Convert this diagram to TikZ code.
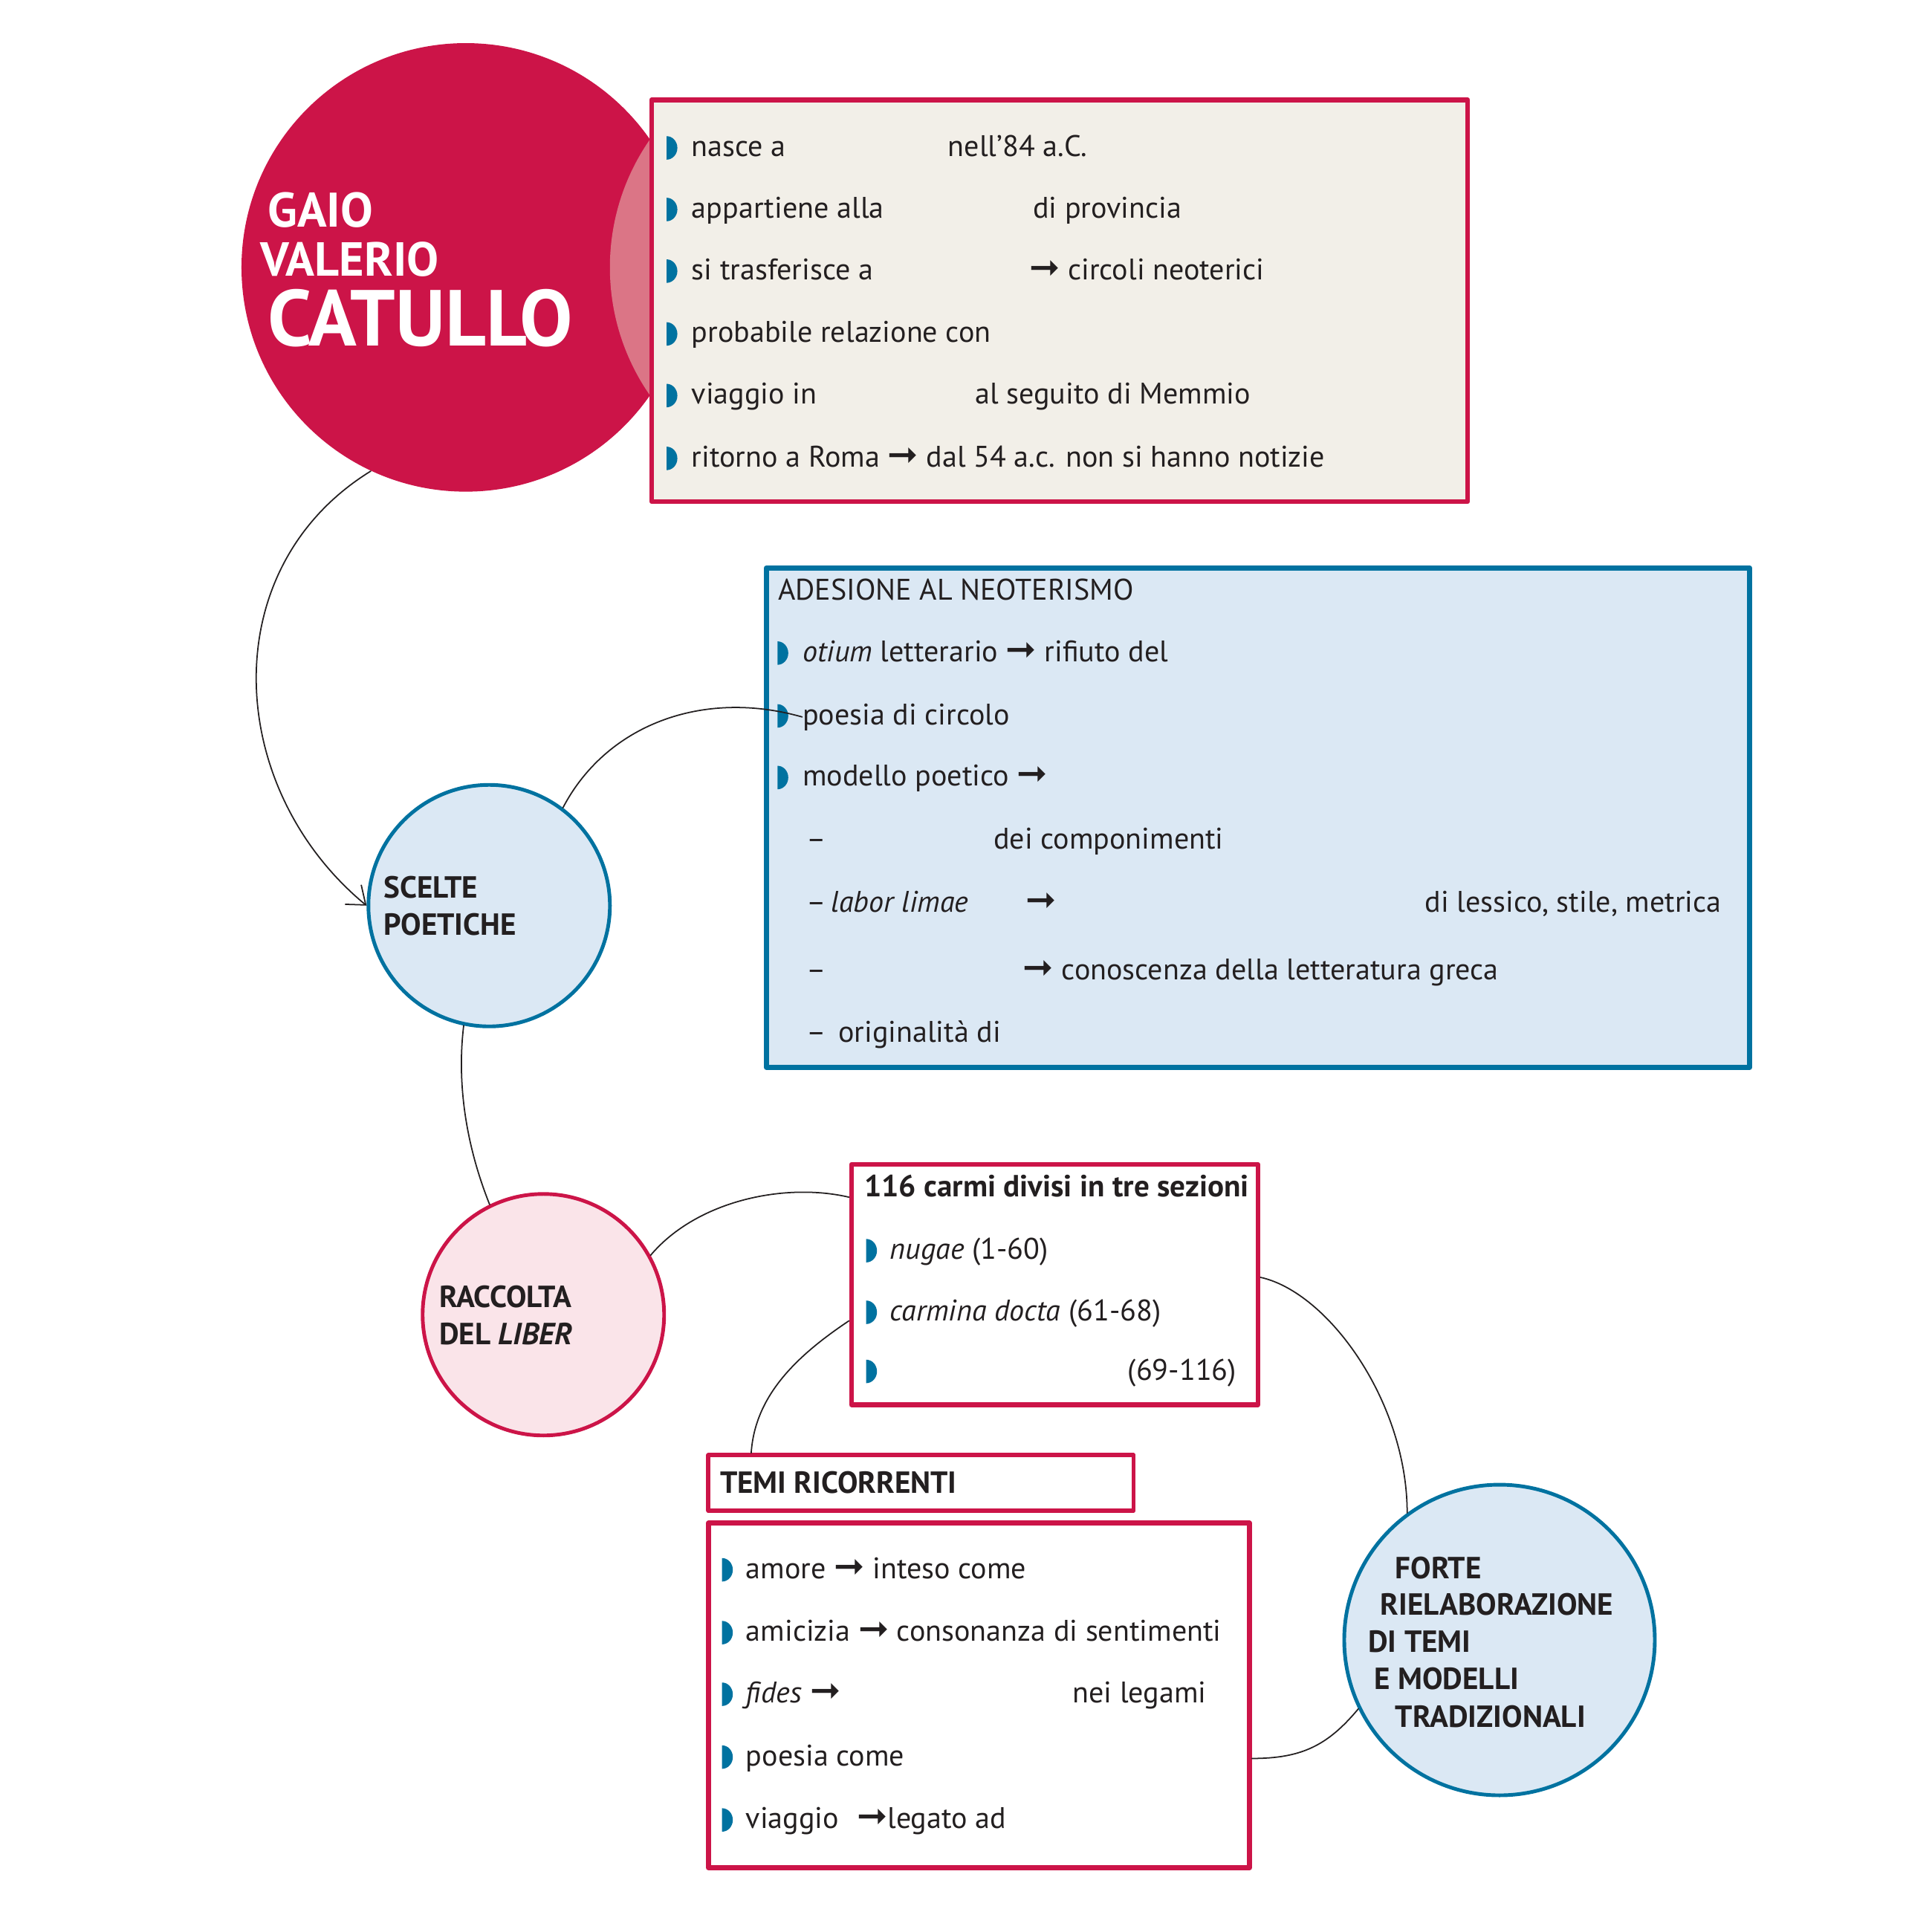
\documentclass[tikz,border=0pt]{standalone}
\usepackage{fontspec}
\setmainfont{PT Sans}
\newfontfamily\simboli{DejaVu Sans}
\usetikzlibrary{arrows.meta}
\newcommand\corpo{\fontsize{11.4}{13}\selectfont}
\newcommand\fr{{\simboli\bfseries\fontsize{14}{13}\selectfont\char"279E}}

\begin{document}
\begin{tikzpicture}[x=0.16582mm,y=-0.16582mm,line cap=round,line join=round,
  riga/.style={anchor=base west,inner sep=0pt,text=inchiostro,font=\corpo},
  grassetto/.style={riga,font=\fontsize{11.7}{13}\selectfont\bfseries},
  tondo/.style={circle,draw,inner sep=0pt,line width=1.4pt},
  riquadro/.style={rectangle,draw,inner sep=0pt,line width=1.9pt},
  legame/.style={draw=inchiostro,line width=.5pt}]

\definecolor{cremisi}{RGB}{204,20,72}
\definecolor{petrolio}{RGB}{0,114,160}
\definecolor{celeste}{RGB}{219,232,244}
\definecolor{rosa}{RGB}{250,228,233}
\definecolor{crema}{RGB}{242,239,232}
\definecolor{lente}{RGB}{219,117,134}
\definecolor{inchiostro}{RGB}{35,31,32}

\path[use as bounding box] (0,0) rectangle (1568,1568);

% big circle
\node[circle,fill=cremisi,inner sep=0pt,minimum size=60.36mm] (catullo) at (378,217) {};
\begin{scope}
  \clip (378,217) circle[radius=30.18mm];
  \fill[lente] (677,217) circle[radius=30.18mm];
\end{scope}
\node[riga,text=white,font=\fontsize{18.6}{20}\selectfont\bfseries] (gaio) at (217,184) {GAIO};
\node[riga,text=white,font=\fontsize{18.3}{20}\selectfont\bfseries] (valerio) at (211,224) {VALERIO};
\node[riga,text=white,font=\fontsize{30.4}{32}\selectfont\bfseries] (cat) at (217,281) {CATULLO};

% boxes
\node[riquadro,draw=cremisi,fill=crema,minimum width=109.8mm,minimum height=54.06mm] (bio) at (860,244) {};
\node[riquadro,draw=petrolio,fill=celeste,line width=2.1pt,minimum width=132.3mm,minimum height=67.2mm] (neo) at (1021,663.5) {};
\node[riquadro,draw=cremisi,fill=white,minimum width=54.7mm,minimum height=32.3mm] (carmi) at (856,1042.5) {};
\node[riquadro,draw=cremisi,fill=white,line width=1.7pt,minimum width=57.2mm,minimum height=7.46mm] (temi) at (747.5,1203.5) {};
\node[riquadro,draw=cremisi,fill=white,minimum width=72.8mm,minimum height=46.4mm] (temario) at (794.5,1376) {};

% circles
\node[tondo,draw=petrolio,fill=celeste,minimum size=32.5mm] (scelte) at (397,735) {};
\node[tondo,draw=cremisi,fill=rosa,minimum size=32.5mm] (raccolta) at (441,1067) {};
\node[tondo,draw=petrolio,fill=celeste,minimum size=41.8mm] (forte) at (1217,1331) {};

\node[grassetto] (sc1) at (311,729) {SCELTE};
\node[grassetto] (sc2) at (311,759) {POETICHE};
\node[grassetto] (ra1) at (356,1061) {RACCOLTA};
\node[grassetto] (ra2) at (356,1091) {DEL \textit{LIBER}};
\node[grassetto] (fo1) at (1132,1281) {FORTE};
\node[grassetto] (fo2) at (1120,1311) {RIELABORAZIONE};
\node[grassetto] (fo3) at (1110,1341) {DI TEMI};
\node[grassetto] (fo4) at (1115,1371) {E MODELLI};
\node[grassetto] (fo5) at (1132,1402) {TRADIZIONALI};

% bullets
\foreach \x/\y in {541/120,541/170,541/220,541/271,541/321,541/372,
                   631/530,631/581,631/631,
                   703/1015,703/1065,703/1113,
                   586/1274,586/1325,586/1375,586/1426,586/1477}
  \fill[petrolio] (\x,\y) ++(0,-9.5) arc[start angle=90,end angle=-90,x radius=1.45mm,y radius=1.58mm] -- cycle;

% biography
\node[riga] (n1a) at (561,127) {nasce a};
\node[riga] (n1b) at (769,127) {nell’84 a.C.};
\node[riga] (n2a) at (561,177) {appartiene alla};
\node[riga] (n2b) at (838,177) {di provincia};
\node[riga] (n3a) at (561,227) {si trasferisce a};
\node[riga] (n3b) at (835,227) {\fr\ circoli neoterici};
\node[riga] (n4) at (561,278) {probabile relazione con};
\node[riga] (n5a) at (561,328) {viaggio in};
\node[riga] (n5b) at (791,328) {al seguito di Memmio};
\node[riga] (n6) at (561,379) {ritorno a Roma \fr\ dal 54 a.c. non si hanno notizie};

% neoterismo
\node[riga] (a0) at (631,487) {ADESIONE AL NEOTERISMO};
\node[riga] (a1) at (651,537) {\textit{otium} letterario \fr\ rifiuto del};
\node[riga] (a2) at (651,588) {poesia di circolo};
\node[riga] (a3) at (651,638) {modello poetico \fr};
\node[riga] (a4a) at (654,689) {–};
\node[riga] (a4b) at (806,689) {dei componimenti};
\node[riga] (a5a) at (654,740) {–};
\node[riga] (a5b) at (674,740) {\textit{labor limae}};
\node[riga] (a5c) at (832,740) {\fr};
\node[riga] (a5d) at (1156,740) {di lessico, stile, metrica};
\node[riga] (a6a) at (654,795) {–};
\node[riga] (a6b) at (830,795) {\fr\ conoscenza della letteratura greca};
\node[riga] (a7a) at (654,846) {–};
\node[riga] (a7b) at (680,846) {originalità di};

% liber
\node[grassetto] (c0) at (701,971) {116 carmi divisi in tre sezioni};
\node[riga] (c1) at (722,1022) {\textit{nugae} (1-60)};
\node[riga] (c2) at (722,1072) {\textit{carmina docta} (61-68)};
\node[riga] (c3) at (915,1120) {(69-116)};

% temi
\node[grassetto] (tr) at (584,1212) {TEMI RICORRENTI};
\node[riga] (m1) at (605,1281) {amore \fr\ inteso come};
\node[riga] (m2) at (605,1332) {amicizia \fr\ consonanza di sentimenti};
\node[riga] (m3a) at (605,1382) {\textit{fides} \fr};
\node[riga] (m3b) at (870,1382) {nei legami};
\node[riga] (m4) at (605,1433) {poesia come};
\node[riga] (m5a) at (605,1484) {viaggio};
\node[riga] (m5b) at (695,1484) {\fr legato ad};

% links
\draw[legame,-{Straight Barb[length=2.2mm,width=3.4mm]}] (catullo.245) .. controls +(-128,79) and +(-115,-95) .. (scelte.west);
\draw[legame] (scelte.53) .. controls +(35,-67) and +(-81,-23) .. (a2.west);
\draw[legame] (scelte.258) .. controls +(-6,50) and +(-18,-45) .. (raccolta.116);
\draw[legame] (raccolta.29) .. controls +(38,-45) and +(-51,-12) .. (carmi.157);
\draw[legame] (carmi.190) .. controls +(-45,30) and +(3,-45) .. (temi.170);
\draw[legame] (carmi.2) .. controls +(55,12) and +(0,-90) .. (forte.126);
\draw[legame] (temario.-13) .. controls +(40,0) and +(-25,30) .. (forte.206);

\end{tikzpicture}
\end{document}
